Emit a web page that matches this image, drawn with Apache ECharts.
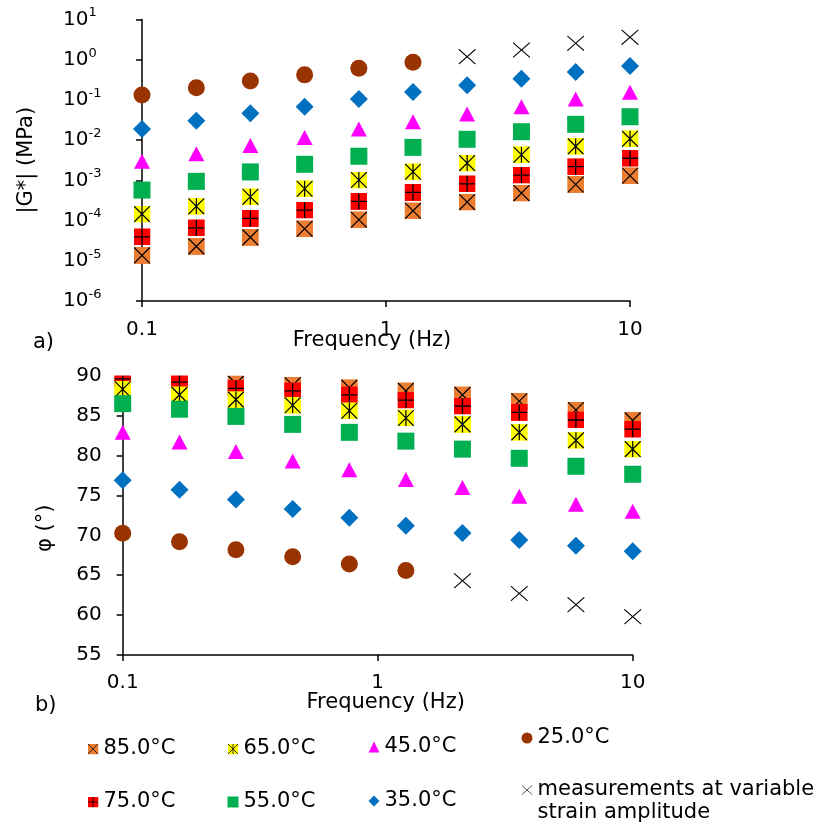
<!DOCTYPE html>
<html><head><meta charset="utf-8">
<script src="https://cdn.jsdelivr.net/npm/echarts@6/dist/echarts.min.js"></script>
<style>html,body{margin:0;padding:0;background:#fff}#c{width:821px;height:825px}</style>
</head><body><div id="c"></div>
<script>
// Frequencies (Hz)
const freq = [0.1, 0.167, 0.278, 0.464, 0.774, 1.29, 2.15, 3.59, 5.99, 10];
// Series names
const names = ['85.0°C', '75.0°C', '65.0°C', '55.0°C', '45.0°C', '35.0°C', '25.0°C', 'measurements at variable'];
// |G*| (MPa)
const g85 = [1.36e-5, 2.28e-5, 3.82e-5, 6.25e-5, 1.05e-4, 1.75e-4, 2.88e-4, 4.83e-4, 7.9e-4, 1.3e-3];
const g75 = [3.95e-5, 6.6e-5, 1.13e-4, 1.82e-4, 3.0e-4, 5.0e-4, 8.2e-4, 1.35e-3, 2.19e-3, 3.55e-3];
const g65 = [1.45e-4, 2.26e-4, 3.9e-4, 6.18e-4, 1.02e-3, 1.64e-3, 2.69e-3, 4.34e-3, 7.0e-3, 1.08e-2];
const g55 = [5.74e-4, 9.44e-4, 1.62e-3, 2.51e-3, 3.98e-3, 6.6e-3, 1.05e-2, 1.62e-2, 2.47e-2, 3.82e-2];
const g45 = [2.99e-3, 4.59e-3, 7.34e-3, 1.17e-2, 1.89e-2, 2.88e-2, 4.46e-2, 6.76e-2, 0.105, 0.155];
const g35 = [0.0189, 0.0304, 0.0464, 0.0676, 0.105, 0.157, 0.231, 0.337, 0.494, 0.697];
const g25 = [0.132, 0.20, 0.295, 0.42, 0.61, 0.86, null, null, null, null];
const gVar = [null, null, null, null, null, null, 1.19, 1.74, 2.56, 3.6];
// phase angle (deg)
const p85 = [89.9, 89.5, 89.0, 88.8, 88.5, 88.1, 87.6, 86.8, 85.7, 84.4];
const p75 = [89.6, 89.2, 88.4, 88.1, 87.6, 86.95, 86.2, 85.4, 84.45, 83.3];
const p65 = [88.3, 87.6, 87.0, 86.3, 85.6, 84.7, 83.9, 82.9, 81.9, 80.8];
const p55 = [86.5, 85.8, 84.9, 83.9, 82.9, 81.8, 80.8, 79.65, 78.65, 77.65];
const p45 = [82.9, 81.7, 80.5, 79.3, 78.2, 77.0, 76.0, 74.9, 73.9, 73.0];
const p35 = [76.9, 75.7, 74.5, 73.3, 72.2, 71.2, 70.3, 69.4, 68.7, 68.0];
const p25 = [70.25, 69.2, 68.2, 67.3, 66.4, 65.6, null, null, null, null];
const pVar = [null, null, null, null, null, null, 64.3, 62.7, 61.3, 59.8];

const gSets = [g85, g75, g65, g55, g45, g35, g25, gVar];
const pSets = [p85, p75, p65, p55, p45, p35, p25, pVar];

const txt = '#000';
const font = 'DejaVu Sans';

function svgSym(inner, w, h) {
  return 'image://data:image/svg+xml;charset=utf-8,' + encodeURIComponent(
    '<svg xmlns="http://www.w3.org/2000/svg" width="' + (w * 4) + '" height="' + (h * 4) + '" viewBox="0 0 ' + w + ' ' + h + '">' + inner + '</svg>');
}
const sym85 = svgSym('<rect width="17" height="17" fill="#ED7D31"/><path d="M0.6,0.6L16.4,16.4M16.4,0.6L0.6,16.4" stroke="#000" stroke-width="1.2" fill="none"/>', 17, 17);
const sym75 = svgSym('<rect width="17" height="17" fill="#FF0000"/><path d="M8.5,0.5V16.5M0.5,8.5H16.5" stroke="#000" stroke-width="1.3" fill="none"/>', 17, 17);
const sym65 = svgSym('<rect width="17" height="17" fill="#FFFF00"/><path d="M0.6,0.6L16.4,16.4M16.4,0.6L0.6,16.4M8.5,0.5V16.5" stroke="#000" stroke-width="1.2" fill="none"/>', 17, 17);
const symVar = svgSym('<path d="M0.6,0.6L17.4,15.4M17.4,0.6L0.6,15.4" stroke="#000" stroke-width="1.1" fill="none"/>', 18, 16);

const styles = [
  { symbol: sym85, symbolSize: 17, color: '#ED7D31' },
  { symbol: sym75, symbolSize: 17, color: '#FF0000' },
  { symbol: sym65, symbolSize: 17, color: '#FFFF00' },
  { symbol: 'rect', symbolSize: 17, color: '#00B050' },
  { symbol: 'triangle', symbolSize: [16, 15], color: '#FF00FF' },
  { symbol: 'diamond', symbolSize: 18, color: '#0070C0' },
  { symbol: 'circle', symbolSize: 17, color: '#993300' },
  { symbol: symVar, symbolSize: [18, 16], color: '#000' }
];

function pts(vals) {
  const out = [];
  freq.forEach((f, i) => { if (vals[i] != null) out.push([f, vals[i]]); });
  return out;
}

const series = [];
[gSets, pSets].forEach((sets, k) => {
  sets.forEach((vals, j) => {
    series.push({
      type: 'scatter', name: names[j], xAxisIndex: k, yAxisIndex: k,
      symbol: styles[j].symbol, symbolSize: styles[j].symbolSize,
      itemStyle: { color: styles[j].color, opacity: 1 },
      data: pts(vals), clip: false, z: 2 + j * 0.01
    });
  });
});

const axisLine = { show: true, onZero: false, lineStyle: { color: '#000', width: 1.5 } };
const axisTick = { show: true, length: 6, inside: false, lineStyle: { color: '#000', width: 1.5 } };
const lblStyle = { fontSize: 20, color: txt, fontFamily: font };
const nameStyle = { fontSize: 21, color: txt, fontFamily: font };

const legendBase = {
  orient: 'vertical', padding: 0, itemWidth: 11, itemHeight: 11, selectedMode: false,
  textStyle: { fontSize: 21, lineHeight: 24, color: txt, fontFamily: font }
};

const option = {
  animation: false,
  backgroundColor: '#fff',
  grid: [
    { left: 142, top: 19.5, right: 191, height: 281.5 },
    { left: 122.7, top: 375.7, right: 188.3, height: 279.3 }
  ],
  xAxis: [
    { gridIndex: 0, type: 'log', logBase: 10, min: 0.1, max: 10,
      axisLine, axisTick, splitLine: { show: false }, minorTick: { show: false },
      axisLabel: Object.assign({ margin: 19 }, lblStyle),
      name: 'Frequency (Hz)', nameLocation: 'middle', nameGap: 29, nameMoveOverlap: false,
      nameTextStyle: Object.assign({ padding: [0, 28, 0, 0] }, nameStyle) },
    { gridIndex: 1, type: 'log', logBase: 10, min: 0.1, max: 10,
      axisLine, axisTick, splitLine: { show: false }, minorTick: { show: false },
      axisLabel: Object.assign({ margin: 18 }, lblStyle),
      name: 'Frequency (Hz)', nameLocation: 'middle', nameGap: 37, nameMoveOverlap: false,
      nameTextStyle: Object.assign({ padding: [0, 0, 0, 16] }, nameStyle) }
  ],
  yAxis: [
    { gridIndex: 0, type: 'log', logBase: 10, min: 1e-6, max: 10,
      axisLine, axisTick, splitLine: { show: false }, minorTick: { show: false },
      axisLabel: {
        margin: 79, align: 'left',
        formatter: v => '{b|10}{s|' + Math.round(Math.log10(v)) + '}',
        rich: {
          b: { fontSize: 20, lineHeight: 26, color: txt, fontFamily: font },
          s: { fontSize: 13, lineHeight: 13, verticalAlign: 'top', color: txt, fontFamily: font }
        }
      },
      name: '|G*| (MPa)', nameLocation: 'middle', nameGap: 105, nameMoveOverlap: false, nameTextStyle: nameStyle },
    { gridIndex: 1, type: 'value', min: 55, max: 90, interval: 5,
      axisLine, axisTick, splitLine: { show: false },
      axisLabel: Object.assign({ margin: 21 }, lblStyle),
      name: 'φ (°)', nameLocation: 'middle', nameGap: 67, nameMoveOverlap: false,
      nameTextStyle: Object.assign({ padding: [0, 26, 0, 0] }, nameStyle) }
  ],
  legend: [
    Object.assign({ left: 87.5, top: 737, itemGap: 29, data: [names[0], names[1]] }, legendBase),
    Object.assign({ left: 227.5, top: 737, itemGap: 29, data: [names[2], names[3]] }, legendBase),
    Object.assign({ left: 368.5, top: 735, itemGap: 30, data: [names[4], names[5]] }, legendBase),
    Object.assign({ left: 521.5, top: 726, itemGap: 28, data: [names[6], names[7]] }, legendBase)
  ],
  graphic: [
    { type: 'rect', shape: { x: 104, y: 360, width: 545, height: 15.5 }, style: { fill: '#fff' }, z: 100, silent: true },
    { type: 'text', left: 33, top: 332, style: { text: 'a)', fontSize: 21, fill: txt, fontFamily: font } },
    { type: 'text', left: 35, top: 695, style: { text: 'b)', fontSize: 21, fill: txt, fontFamily: font } },
    { type: 'text', left: 537.5, top: 802, style: { text: 'strain amplitude', fontSize: 21, fill: txt, fontFamily: font } }
  ],
  series
};

const chart = echarts.init(document.getElementById('c'), null, { renderer: 'canvas' });
chart.setOption(option);
</script>
</body></html>
